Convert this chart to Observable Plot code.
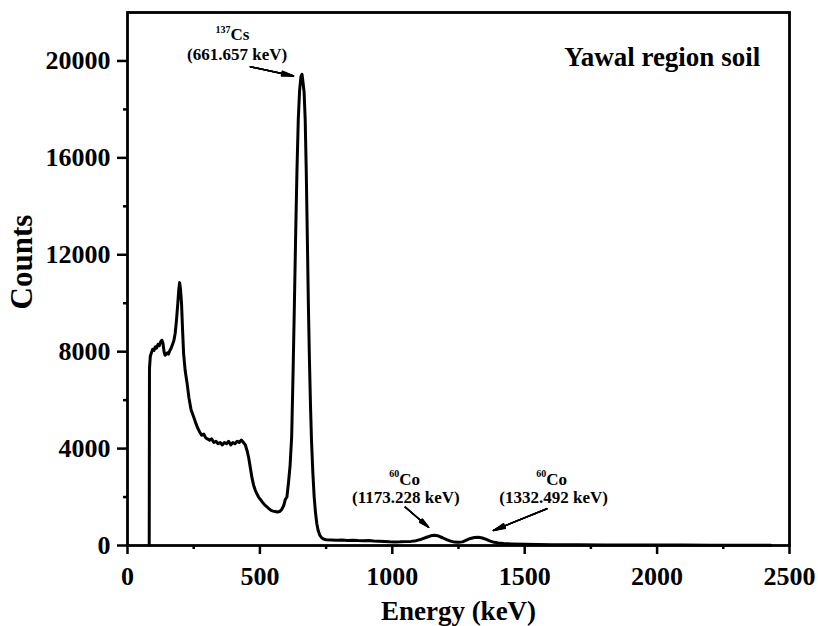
<!DOCTYPE html>
<html>
<head>
<meta charset="utf-8">
<script src="https://cdn.jsdelivr.net/npm/d3@7"></script>
<script src="https://cdn.jsdelivr.net/npm/@observablehq/plot@0.6"></script>
<style>
  html, body { margin: 0; padding: 0; background: #fff; }
</style>
</head>
<body>
<div id="chart"></div>
<script>
// ---- data ----
const energy = [82,83,86,90,95,100,105,110,115,120,125,130,134,138,142,146,150,155,160,165,170,175,180,185,190,194,197,200,204,208,212,218,225,232,240,250,258,265,272,280,288,295,302,310,318,326,334,342,350,358,366,374,382,390,398,406,414,422,430,438,445,452,458,464,470,476,482,488,495,502,510,518,526,534,542,550,558,566,574,582,590,596,602,608,614,620,625,630,635,640,645,650,655,659,663,667,671,675,679,683,687,691,695,700,705,710,715,720,726,733,740,750,770,790,810,830,850,870,890,910,930,950,970,990,1010,1030,1050,1070,1090,1110,1130,1145,1160,1175,1190,1205,1220,1235,1250,1265,1280,1295,1310,1325,1340,1355,1370,1385,1400,1420,1450,1500,1550,1600,1700,1800,1900,2000,2100,2200,2300,2430];
const counts = [0,7300,7800,7950,8100,8050,8200,8150,8300,8250,8400,8470,8350,8000,7850,7900,7950,7900,8050,8150,8300,8450,8750,9300,10000,10600,10850,10600,10000,8900,7900,7200,6700,6100,5600,5300,5050,4850,4700,4550,4600,4450,4400,4350,4400,4250,4300,4200,4250,4150,4250,4200,4300,4150,4250,4200,4300,4250,4350,4250,4150,3900,3600,3200,2800,2500,2300,2150,2000,1900,1780,1680,1600,1520,1450,1420,1400,1380,1400,1480,1650,1900,2000,2600,3300,4500,7000,9800,12800,15500,17600,18800,19350,19450,19100,18700,17600,15500,12800,10000,7700,5800,4300,3000,2000,1350,900,620,430,320,270,240,230,215,225,210,215,205,200,205,190,180,165,150,145,150,160,170,200,260,340,400,420,390,320,240,180,140,130,150,220,290,330,340,310,250,180,130,100,80,65,50,40,35,30,25,22,20,18,15,14,12];

const xMajor = [0, 500, 1000, 1500, 2000, 2500];
const xMinor = [250, 750, 1250, 1750, 2250];
const yMajor = [0, 4000, 8000, 12000, 16000, 20000];
const yMinor = [2000, 6000, 10000, 14000, 18000];

// annotation labels (data units)
const isoNames   = ["Cs", "Co", "Co"];
const isoMass    = ["137", "60", "60"];
const isoX       = [389, 1026, 1581];
const isoY       = [21087, 2736, 2736];
const lineLabels = ["(661.657 keV)", "(1173.228 keV)", "(1332.492 keV)"];
const lineX      = [414, 1051, 1609];
const lineY      = [20248, 1970, 1970];
const arrowX1 = [464, 1049, 1584];
const arrowY1 = [19760, 1583, 1517];
const arrowX2 = [627, 1137, 1382];
const arrowY2 = [19380, 756, 620];
const sampleTitle = ["Yawal region soil"];

const spectrum = energy.map((e, i) => ({e, c: counts[i]}));
const isoData = isoNames.map((n, i) => ({n, m: isoMass[i], x: isoX[i], y: isoY[i]}));
const lineData = lineLabels.map((t, i) => ({t, x: lineX[i], y: lineY[i]}));
const arrowData = arrowX1.map((x1, i) => ({x1, y1: arrowY1[i], x2: arrowX2[i], y2: arrowY2[i]}));

const font = "'Liberation Serif', 'Times New Roman', Times, serif";

const arrowMarks = [6, 12, 18, 24].map(a => Plot.arrow(arrowData, {
  x1: "x1", y1: "y1", x2: "x2", y2: "y2",
  stroke: "#000", strokeWidth: 1.4, headAngle: a, headLength: 13
}));

const chart = Plot.plot({
  width: 818,
  height: 626,
  marginLeft: 127,
  marginRight: 29,
  marginTop: 12,
  marginBottom: 81,
  x: {domain: [0, 2500]},
  y: {domain: [0, 22000]},
  style: {fontFamily: font, fontWeight: "bold", fontSize: "26px", color: "#000", background: "#fff"},
  marks: [
    Plot.line(spectrum, {x: "e", y: "c", stroke: "#000", strokeWidth: 3, strokeLinejoin: "round"}),
    Plot.axisX({ticks: xMajor, tickSize: 9, tickPadding: 12, strokeWidth: 2.5, fontSize: 26, tickFormat: d => String(d), label: null}),
    Plot.axisX({ticks: xMinor, tickSize: 4, strokeWidth: 2.5, tickFormat: () => "", label: null}),
    Plot.axisY({ticks: yMajor, tickSize: 10, tickPadding: 7, strokeWidth: 2.5, fontSize: 26, tickFormat: d => String(d), label: null}),
    Plot.axisY({ticks: yMinor, tickSize: 4, strokeWidth: 2.5, tickFormat: () => "", label: null}),
    Plot.frame({stroke: "#000", strokeWidth: 2.8}),
    Plot.text(["Energy (keV)"], {frameAnchor: "bottom", dy: 66, fontSize: 27, fontWeight: "bold", textAnchor: "middle", lineAnchor: "middle", fill: "#000"}),
    Plot.text(["Counts"], {frameAnchor: "left", rotate: -90, dx: -105, dy: -17, fontSize: 31, fontWeight: "bold", textAnchor: "middle", lineAnchor: "middle", fill: "#000"}),
    Plot.text(sampleTitle, {x: 2019, y: 20145, fontSize: 27, fontWeight: "bold", lineAnchor: "middle", fill: "#000"}),
    Plot.text(isoData, {x: "x", y: "y", text: "n", textAnchor: "start", fontSize: 17, fontWeight: "bold", lineAnchor: "middle", fill: "#000"}),
    Plot.text(isoData, {x: "x", y: "y", text: "m", textAnchor: "end", dy: -5, fontSize: 10, fontWeight: "bold", lineAnchor: "middle", fill: "#000"}),
    Plot.text(lineData, {x: "x", y: "y", text: "t", textAnchor: "middle", fontSize: 17, fontWeight: "bold", lineAnchor: "middle", fill: "#000"}),
    ...arrowMarks
  ]
});
document.getElementById("chart").appendChild(chart);
</script>
</body>
</html>
